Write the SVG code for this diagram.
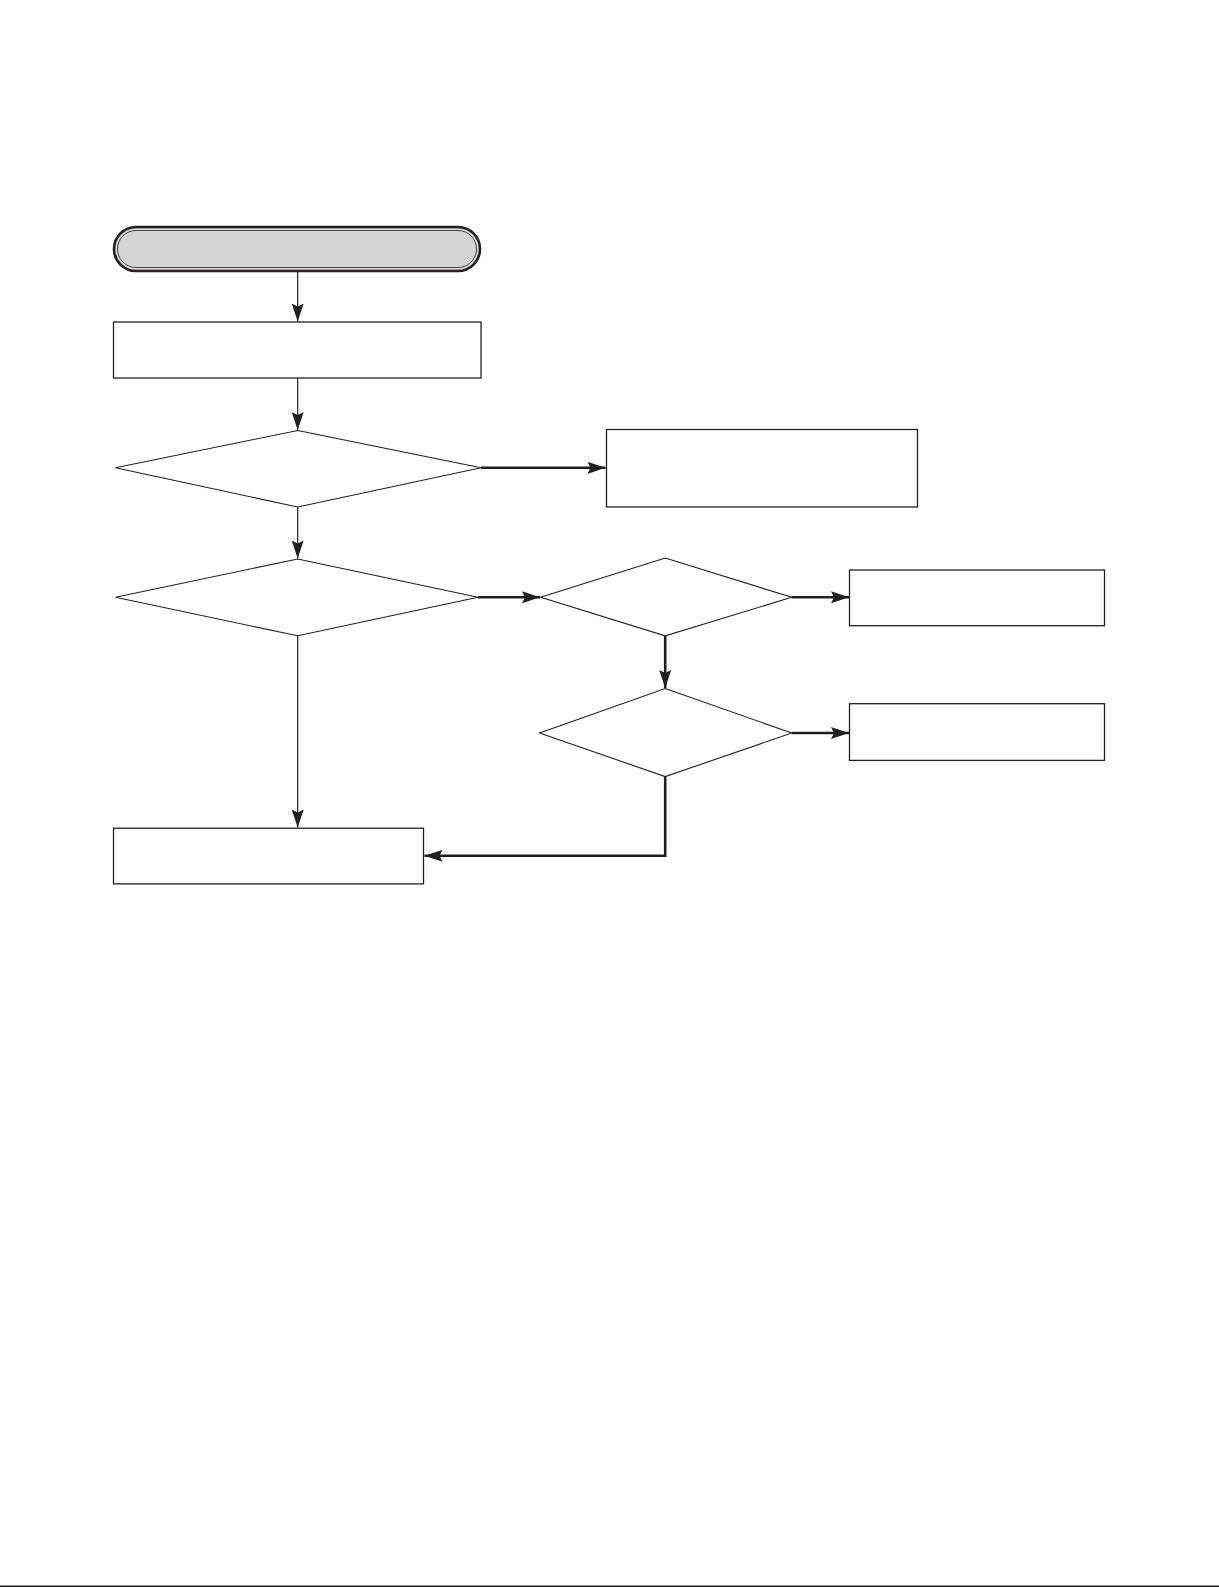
<svg xmlns="http://www.w3.org/2000/svg" width="1219" height="1587" viewBox="0 0 1219 1587">
<style>
.box{fill:#fff;stroke:#231f20;stroke-width:1.3}
.dia{fill:#fff;stroke:#231f20;stroke-width:1.1}
.thin{fill:none;stroke:#231f20;stroke-width:1.2}
.thick{fill:none;stroke:#231f20;stroke-width:2.6}
</style>
<defs>
<marker id="ah" markerUnits="userSpaceOnUse" markerWidth="20" markerHeight="12" refX="18" refY="6" orient="auto">
<path d="M0,0 L18,6 L0,12 L3,6 Z" fill="#231f20"/>
</marker>
</defs>
<rect width="1219" height="1587" fill="#fff"/>
<g id="start">
<rect x="114" y="227" width="366" height="44" rx="22" ry="22" fill="#d4d4d4" stroke="#231f20" stroke-width="2.6"/>
<rect x="117.5" y="230.5" width="359" height="37" rx="18.5" ry="18.5" fill="none" stroke="#231f20" stroke-width="0.8"/>
</g>
<g id="step1"><rect class="box" x="113.5" y="322" width="367.5" height="56"/></g>
<g id="decision1"><polygon class="dia" points="297.7,430.5 481,467.8 297.7,507 115.5,467.8"/></g>
<g id="result1"><rect class="box" x="606.5" y="429.5" width="311" height="77.5"/></g>
<g id="decision2"><polygon class="dia" points="297.7,559 478,597.3 297.7,635.8 115.5,597.3"/></g>
<g id="decision3"><polygon class="dia" points="665.2,558 791.7,597.3 665.2,635.8 540.6,597.3"/></g>
<g id="result2"><rect class="box" x="849.5" y="570" width="255" height="55.7"/></g>
<g id="decision4"><polygon class="dia" points="665.2,688.5 791.7,733 665.2,776.6 539.6,733"/></g>
<g id="result3"><rect class="box" x="849.5" y="703.7" width="255" height="56.7"/></g>
<g id="step2"><rect class="box" x="113.5" y="828.2" width="310" height="55.7"/></g>
<g id="connectors">
<path class="thin" d="M297.7,271 V321.5" marker-end="url(#ah)"/>
<path class="thin" d="M297.7,378 V430" marker-end="url(#ah)"/>
<path class="thick" d="M481,467.8 H605.5" marker-end="url(#ah)"/>
<path class="thin" d="M297.7,507 V558.5" marker-end="url(#ah)"/>
<path class="thick" d="M478,597.3 H540" marker-end="url(#ah)"/>
<path class="thick" d="M791.7,597.3 H849" marker-end="url(#ah)"/>
<path class="thick" d="M665.2,635.8 V688" marker-end="url(#ah)"/>
<path class="thick" d="M791.7,733 H849" marker-end="url(#ah)"/>
<path class="thin" d="M297.7,635.8 V827.5" marker-end="url(#ah)"/>
<path class="thick" d="M665.2,776.6 V855.8 H424.5" marker-end="url(#ah)"/>
</g>
<rect x="0" y="1585.5" width="1219" height="1.5" fill="#231f20"/>
</svg>
